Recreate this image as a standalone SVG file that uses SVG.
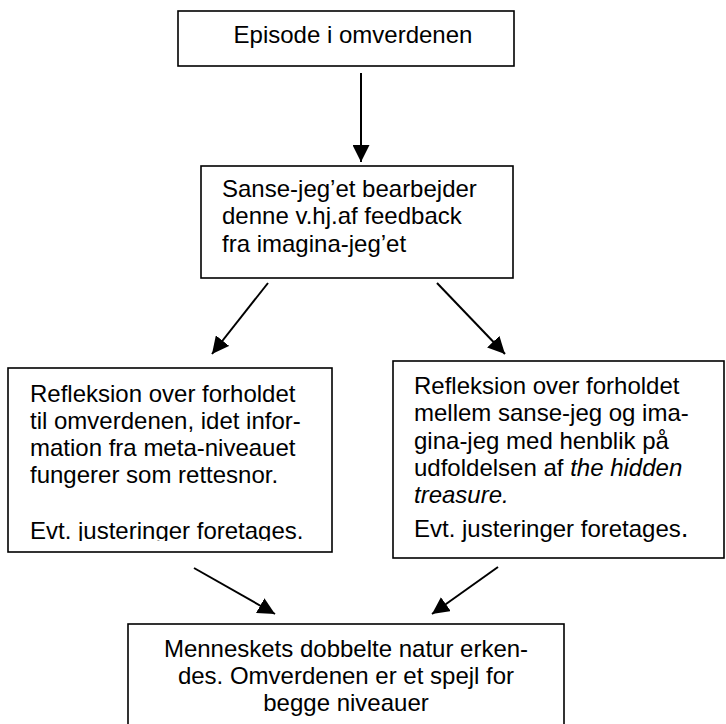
<svg xmlns="http://www.w3.org/2000/svg" width="726" height="724" viewBox="0 0 726 724">
  <style>
    .box { fill: #ffffff; stroke: #000000; stroke-width: 1.6; }
    .t { font-family: "Liberation Sans", Arial, sans-serif; font-size: 24px; fill: #000000; }
    .c { text-anchor: middle; }
    .conn { stroke: #000000; stroke-width: 2; fill: none; marker-end: url(#arr); }
  </style>
  <defs>
    <marker id="arr" viewBox="0 0 10 10" refX="10" refY="5" markerWidth="8.5" markerHeight="8.5" orient="auto" markerUnits="strokeWidth">
      <path d="M0,0 L10,5 L0,10 Z" fill="#000000"/>
    </marker>
    <clipPath id="clipLeft">
      <rect x="9" y="369" width="322" height="172"/>
    </clipPath>
  </defs>
  <rect width="726" height="724" fill="#ffffff"/>

  <g id="n-episode">
    <rect class="box" x="178" y="11" width="336" height="55"/>
    <text class="t c" x="353" y="43">Episode i omverdenen</text>
  </g>

  <g id="n-sanse">
    <rect class="box" x="201" y="166" width="312" height="112"/>
    <text class="t" x="222" y="197">Sanse-jeg’et bearbejder</text>
    <text class="t" x="222" y="224">denne v.hj.af feedback</text>
    <text class="t" x="222" y="252">fra imagina-jeg’et</text>
  </g>

  <g id="n-left">
    <rect class="box" x="8" y="368" width="324" height="184"/>
    <g clip-path="url(#clipLeft)">
      <text class="t" x="30" y="402">Refleksion over forholdet</text>
      <text class="t" x="30" y="429">til omverdenen, idet infor-</text>
      <text class="t" x="30" y="456">mation fra meta-niveauet</text>
      <text class="t" x="30" y="483">fungerer som rettesnor.</text>
      <text class="t" x="30" y="539">Evt. justeringer foretages.</text>
    </g>
  </g>

  <g id="n-right">
    <rect class="box" x="393" y="361" width="331" height="197"/>
    <text class="t" x="414" y="394">Refleksion over forholdet</text>
    <text class="t" x="414" y="421">mellem sanse-jeg og ima-</text>
    <text class="t" x="414" y="449">gina-jeg med henblik på</text>
    <text class="t" x="414" y="476">udfoldelsen af <tspan font-style="italic">the hidden</tspan></text>
    <text class="t" x="414" y="503" font-style="italic">treasure.</text>
    <text class="t" x="414" y="537">Evt. justeringer foretages<tspan font-size="28">.</tspan></text>
  </g>

  <g id="n-bottom">
    <rect class="box" x="128" y="624" width="436" height="110"/>
    <text class="t c" x="346" y="657">Menneskets dobbelte natur erken-</text>
    <text class="t c" x="346" y="684">des. Omverdenen er et spejl for</text>
    <text class="t c" x="346" y="711">begge niveauer</text>
  </g>

  <g id="connectors">
    <line class="conn" x1="361" y1="73" x2="361" y2="162"/>
    <line class="conn" x1="268" y1="283" x2="212" y2="354"/>
    <line class="conn" x1="437" y1="283" x2="505" y2="354"/>
    <line class="conn" x1="194" y1="568" x2="275" y2="614"/>
    <line class="conn" x1="498" y1="567" x2="432" y2="614"/>
  </g>
</svg>
